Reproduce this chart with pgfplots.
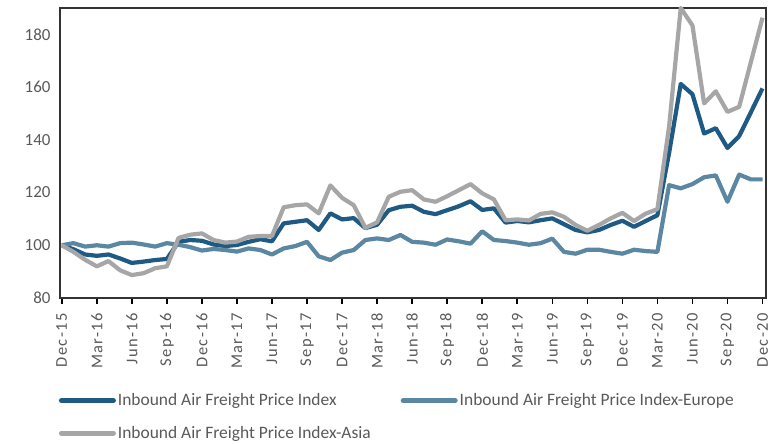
\documentclass[border=0pt]{standalone}
\usepackage{fontspec}
\setmainfont{Carlito}
\newfontfamily\spaced{Carlito}[LetterSpace=8]
\usepackage{pgfplots}
\usepackage{pgfplotstable}
\pgfplotsset{compat=1.18}
\definecolor{cmain}{RGB}{31,90,133}
\definecolor{ceur}{RGB}{91,135,163}
\definecolor{casia}{RGB}{166,166,166}
\definecolor{ctick}{RGB}{89,89,89}

\pgfplotstableread{
x main eur asia
0 100 100 100
1 98.5 100.8 97.5
2 96.5 99.5 94.5
3 96 100 92
4 96.5 99.5 94
5 95 100.8 90.5
6 93.3 101 88.7
7 93.8 100.3 89.4
8 94.4 99.5 91.3
9 94.8 100.8 92
10 101.3 100.2 102.8
11 102 99.3 104
12 101.7 98 104.5
13 100.3 98.6 102
14 99.7 98.2 101
15 100.1 97.6 101.4
16 101.3 98.8 103.2
17 102.3 98.2 103.5
18 101.5 96.5 103.5
19 108.3 98.8 114.4
20 108.9 99.7 115.2
21 109.5 101.3 115.5
22 105.8 95.8 112.1
23 112.1 94.4 122.7
24 109.8 97.2 118
25 110.3 98.2 115.2
26 106.5 102 106.6
27 107.8 102.6 108.7
28 113.3 102 118.4
29 114.6 103.9 120.3
30 115 101.3 120.9
31 112.7 101 117.4
32 111.8 100.2 116.5
33 113.3 102.2 118.6
34 114.8 101.5 120.9
35 116.7 100.6 123.2
36 113.4 105.3 119.7
37 114 102 117.4
38 108.6 101.6 109.5
39 109.2 101 109.8
40 108.7 100.2 109.4
41 109.5 100.8 111.9
42 110.2 102.5 112.5
43 108 97.5 110.8
44 105.8 96.8 107.7
45 104.9 98.3 105.5
46 105.8 98.3 107.7
47 107.7 97.5 110.2
48 109.3 96.8 112.3
49 107 98.3 109.2
50 109.2 97.8 112
51 111.4 97.5 113.7
52 135 122.8 145
53 161.2 121.6 190
54 157.3 123.2 183.4
55 142.4 125.8 153.8
56 144.4 126.5 158.4
57 136.9 116.5 150.6
58 141.4 126.8 152.5
59 150.4 125 169.4
60 159.5 125 186.3
}\datatable

\begin{document}
\begin{tikzpicture}[x=1bp,y=1bp]
\path[use as bounding box] (-60,-146) rectangle (716,298);
\begin{axis}[
  at={(0,0)}, anchor=south west,
  scale only axis, width=706bp, height=290bp,
  xmin=-0.15, xmax=60.3, ymin=80, ymax=190,
  xtick={0,3,...,60},
  xticklabels={Dec-15,Mar-16,Jun-16,Sep-16,Dec-16,Mar-17,Jun-17,Sep-17,Dec-17,Mar-18,Jun-18,Sep-18,Dec-18,Mar-19,Jun-19,Sep-19,Dec-19,Mar-20,Jun-20,Sep-20,Dec-20},
  ytick={80,100,...,180},
  xtick pos=bottom, ytick pos=left,
  tick align=outside,
  major tick length=6bp,
  xtick style={draw=black, line width=1.5bp},
  ytick style={draw=none},
  axis line style={draw=black!80, line width=1.6bp},
  /pgf/number format/assume math mode=true,
  xticklabel shift=6bp,
  x tick label style={rotate=90, anchor=east, font=\spaced\fontsize{16.5}{18}\selectfont, text=ctick},
  y tick label style={font=\fontsize{17}{19}\selectfont, text=ctick},
  clip=false,
  legend columns=2,
  legend cell align=left,
  legend style={at={(-0.006,-0.316)}, anchor=north west, draw=none, fill=none,
    font=\fontsize{17.5}{20}\selectfont, text=ctick, row sep=15bp,
    /tikz/every even column/.append style={column sep=28bp},
    /tikz/every odd column/.append style={column sep=0bp}},
  legend image code/.code={\draw[line width=5bp, line cap=round] (0bp,0bp) -- (52bp,0bp);},
]
\addplot[cmain, line width=4.2bp, line join=round] table[x=x, y=main] {\datatable};
\addlegendentry{Inbound Air Freight Price Index}
\addplot[ceur, line width=4.2bp, line join=round] table[x=x, y=eur] {\datatable};
\addlegendentry{Inbound Air Freight Price Index-Europe}
\addplot[casia, line width=4.2bp, line join=round] table[x=x, y=asia] {\datatable};
\addlegendentry{Inbound Air Freight Price Index-Asia}
\end{axis}
\end{tikzpicture}
\end{document}
